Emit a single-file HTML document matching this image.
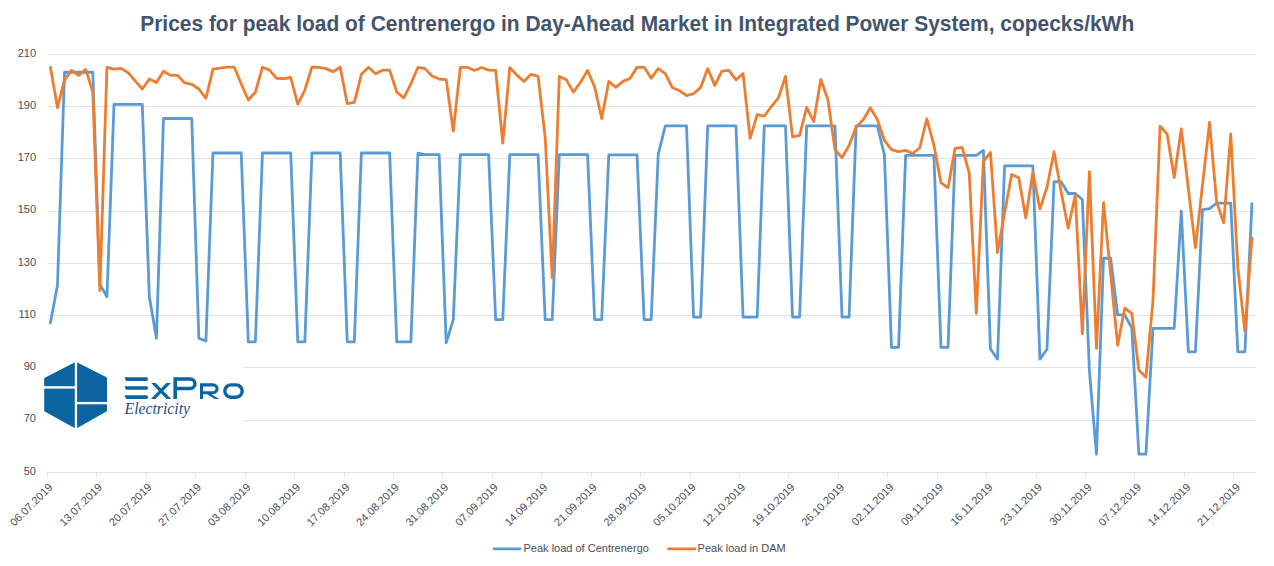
<!DOCTYPE html>
<html><head><meta charset="utf-8"><style>
html,body{margin:0;padding:0;background:#fff;}
body{width:1274px;height:566px;overflow:hidden;font-family:"Liberation Sans",sans-serif;}
svg{display:block;}
</style></head><body>
<svg width="1274" height="566" viewBox="0 0 1274 566">
<rect width="1274" height="566" fill="#fff"/>
<text x="637.2" y="30.9" text-anchor="middle" font-family="Liberation Sans, sans-serif" font-weight="bold" font-size="22" fill="#44546A" textLength="994" lengthAdjust="spacingAndGlyphs">Prices for peak load of Centrenergo in Day-Ahead Market in Integrated Power System, copecks/kWh</text>
<rect x="48" y="54" width="1208" height="1" fill="#E1E2E5"/>
<rect x="48" y="106" width="1208" height="1" fill="#E1E2E5"/>
<rect x="48" y="158" width="1208" height="1" fill="#E1E2E5"/>
<rect x="48" y="211" width="1208" height="1" fill="#E1E2E5"/>
<rect x="48" y="263" width="1208" height="1" fill="#E1E2E5"/>
<rect x="48" y="315" width="1208" height="1" fill="#E1E2E5"/>
<rect x="48" y="367" width="1208" height="1" fill="#E1E2E5"/>
<rect x="48" y="420" width="1208" height="1" fill="#E1E2E5"/>
<rect x="48" y="472" width="1208" height="1" fill="#E1E2E5"/>
<rect x="47" y="472" width="1" height="5" fill="#E1E2E5"/>
<rect x="96" y="472" width="1" height="5" fill="#E1E2E5"/>
<rect x="146" y="472" width="1" height="5" fill="#E1E2E5"/>
<rect x="195" y="472" width="1" height="5" fill="#E1E2E5"/>
<rect x="245" y="472" width="1" height="5" fill="#E1E2E5"/>
<rect x="294" y="472" width="1" height="5" fill="#E1E2E5"/>
<rect x="344" y="472" width="1" height="5" fill="#E1E2E5"/>
<rect x="393" y="472" width="1" height="5" fill="#E1E2E5"/>
<rect x="442" y="472" width="1" height="5" fill="#E1E2E5"/>
<rect x="492" y="472" width="1" height="5" fill="#E1E2E5"/>
<rect x="541" y="472" width="1" height="5" fill="#E1E2E5"/>
<rect x="591" y="472" width="1" height="5" fill="#E1E2E5"/>
<rect x="640" y="472" width="1" height="5" fill="#E1E2E5"/>
<rect x="690" y="472" width="1" height="5" fill="#E1E2E5"/>
<rect x="739" y="472" width="1" height="5" fill="#E1E2E5"/>
<rect x="788" y="472" width="1" height="5" fill="#E1E2E5"/>
<rect x="838" y="472" width="1" height="5" fill="#E1E2E5"/>
<rect x="887" y="472" width="1" height="5" fill="#E1E2E5"/>
<rect x="937" y="472" width="1" height="5" fill="#E1E2E5"/>
<rect x="986" y="472" width="1" height="5" fill="#E1E2E5"/>
<rect x="1036" y="472" width="1" height="5" fill="#E1E2E5"/>
<rect x="1085" y="472" width="1" height="5" fill="#E1E2E5"/>
<rect x="1134" y="472" width="1" height="5" fill="#E1E2E5"/>
<rect x="1184" y="472" width="1" height="5" fill="#E1E2E5"/>
<rect x="1233" y="472" width="1" height="5" fill="#E1E2E5"/>
<text x="36" y="56.6" text-anchor="end" font-family="Liberation Sans, sans-serif" font-size="11" fill="#4A4E56">210</text>
<text x="36" y="108.8" text-anchor="end" font-family="Liberation Sans, sans-serif" font-size="11" fill="#4A4E56">190</text>
<text x="36" y="161.1" text-anchor="end" font-family="Liberation Sans, sans-serif" font-size="11" fill="#4A4E56">170</text>
<text x="36" y="213.3" text-anchor="end" font-family="Liberation Sans, sans-serif" font-size="11" fill="#4A4E56">150</text>
<text x="36" y="265.6" text-anchor="end" font-family="Liberation Sans, sans-serif" font-size="11" fill="#4A4E56">130</text>
<text x="36" y="317.9" text-anchor="end" font-family="Liberation Sans, sans-serif" font-size="11" fill="#4A4E56">110</text>
<text x="36" y="370.1" text-anchor="end" font-family="Liberation Sans, sans-serif" font-size="11" fill="#4A4E56">90</text>
<text x="36" y="422.4" text-anchor="end" font-family="Liberation Sans, sans-serif" font-size="11" fill="#4A4E56">70</text>
<text x="36" y="474.6" text-anchor="end" font-family="Liberation Sans, sans-serif" font-size="11" fill="#4A4E56">50</text>
<text transform="translate(50.6,485.2) rotate(-45)" x="0" y="0" text-anchor="end" dy="0.35em" font-family="Liberation Sans, sans-serif" font-size="11" fill="#4A4E56">06.07.2019</text>
<text transform="translate(100.1,485.2) rotate(-45)" x="0" y="0" text-anchor="end" dy="0.35em" font-family="Liberation Sans, sans-serif" font-size="11" fill="#4A4E56">13.07.2019</text>
<text transform="translate(149.6,485.2) rotate(-45)" x="0" y="0" text-anchor="end" dy="0.35em" font-family="Liberation Sans, sans-serif" font-size="11" fill="#4A4E56">20.07.2019</text>
<text transform="translate(199.0,485.2) rotate(-45)" x="0" y="0" text-anchor="end" dy="0.35em" font-family="Liberation Sans, sans-serif" font-size="11" fill="#4A4E56">27.07.2019</text>
<text transform="translate(248.5,485.2) rotate(-45)" x="0" y="0" text-anchor="end" dy="0.35em" font-family="Liberation Sans, sans-serif" font-size="11" fill="#4A4E56">03.08.2019</text>
<text transform="translate(298.0,485.2) rotate(-45)" x="0" y="0" text-anchor="end" dy="0.35em" font-family="Liberation Sans, sans-serif" font-size="11" fill="#4A4E56">10.08.2019</text>
<text transform="translate(347.5,485.2) rotate(-45)" x="0" y="0" text-anchor="end" dy="0.35em" font-family="Liberation Sans, sans-serif" font-size="11" fill="#4A4E56">17.08.2019</text>
<text transform="translate(396.9,485.2) rotate(-45)" x="0" y="0" text-anchor="end" dy="0.35em" font-family="Liberation Sans, sans-serif" font-size="11" fill="#4A4E56">24.08.2019</text>
<text transform="translate(446.4,485.2) rotate(-45)" x="0" y="0" text-anchor="end" dy="0.35em" font-family="Liberation Sans, sans-serif" font-size="11" fill="#4A4E56">31.08.2019</text>
<text transform="translate(495.9,485.2) rotate(-45)" x="0" y="0" text-anchor="end" dy="0.35em" font-family="Liberation Sans, sans-serif" font-size="11" fill="#4A4E56">07.09.2019</text>
<text transform="translate(545.4,485.2) rotate(-45)" x="0" y="0" text-anchor="end" dy="0.35em" font-family="Liberation Sans, sans-serif" font-size="11" fill="#4A4E56">14.09.2019</text>
<text transform="translate(594.8,485.2) rotate(-45)" x="0" y="0" text-anchor="end" dy="0.35em" font-family="Liberation Sans, sans-serif" font-size="11" fill="#4A4E56">21.09.2019</text>
<text transform="translate(644.3,485.2) rotate(-45)" x="0" y="0" text-anchor="end" dy="0.35em" font-family="Liberation Sans, sans-serif" font-size="11" fill="#4A4E56">28.09.2019</text>
<text transform="translate(693.8,485.2) rotate(-45)" x="0" y="0" text-anchor="end" dy="0.35em" font-family="Liberation Sans, sans-serif" font-size="11" fill="#4A4E56">05.10.2019</text>
<text transform="translate(743.3,485.2) rotate(-45)" x="0" y="0" text-anchor="end" dy="0.35em" font-family="Liberation Sans, sans-serif" font-size="11" fill="#4A4E56">12.10.2019</text>
<text transform="translate(792.7,485.2) rotate(-45)" x="0" y="0" text-anchor="end" dy="0.35em" font-family="Liberation Sans, sans-serif" font-size="11" fill="#4A4E56">19.10.2019</text>
<text transform="translate(842.2,485.2) rotate(-45)" x="0" y="0" text-anchor="end" dy="0.35em" font-family="Liberation Sans, sans-serif" font-size="11" fill="#4A4E56">26.10.2019</text>
<text transform="translate(891.7,485.2) rotate(-45)" x="0" y="0" text-anchor="end" dy="0.35em" font-family="Liberation Sans, sans-serif" font-size="11" fill="#4A4E56">02.11.2019</text>
<text transform="translate(941.2,485.2) rotate(-45)" x="0" y="0" text-anchor="end" dy="0.35em" font-family="Liberation Sans, sans-serif" font-size="11" fill="#4A4E56">09.11.2019</text>
<text transform="translate(990.6,485.2) rotate(-45)" x="0" y="0" text-anchor="end" dy="0.35em" font-family="Liberation Sans, sans-serif" font-size="11" fill="#4A4E56">16.11.2019</text>
<text transform="translate(1040.1,485.2) rotate(-45)" x="0" y="0" text-anchor="end" dy="0.35em" font-family="Liberation Sans, sans-serif" font-size="11" fill="#4A4E56">23.11.2019</text>
<text transform="translate(1089.6,485.2) rotate(-45)" x="0" y="0" text-anchor="end" dy="0.35em" font-family="Liberation Sans, sans-serif" font-size="11" fill="#4A4E56">30.11.2019</text>
<text transform="translate(1139.1,485.2) rotate(-45)" x="0" y="0" text-anchor="end" dy="0.35em" font-family="Liberation Sans, sans-serif" font-size="11" fill="#4A4E56">07.12.2019</text>
<text transform="translate(1188.5,485.2) rotate(-45)" x="0" y="0" text-anchor="end" dy="0.35em" font-family="Liberation Sans, sans-serif" font-size="11" fill="#4A4E56">14.12.2019</text>
<text transform="translate(1238.0,485.2) rotate(-45)" x="0" y="0" text-anchor="end" dy="0.35em" font-family="Liberation Sans, sans-serif" font-size="11" fill="#4A4E56">21.12.2019</text>
<rect x="38" y="352" width="206" height="84" fill="#fff"/>
<polyline points="50.40,322.80 57.47,285.18 64.54,72.27 71.60,72.27 78.67,72.27 85.74,72.27 92.81,72.27 99.88,284.40 106.94,296.68 114.01,104.40 121.08,104.40 128.15,104.40 135.22,104.40 142.28,104.40 149.35,296.68 156.42,338.22 163.49,118.51 170.56,118.51 177.62,118.51 184.69,118.51 191.76,118.51 198.83,338.22 205.90,341.09 212.96,152.99 220.03,152.99 227.10,152.99 234.17,152.99 241.24,152.99 248.30,341.88 255.37,341.88 262.44,152.99 269.51,152.99 276.58,152.99 283.64,152.99 290.71,152.99 297.78,341.88 304.85,341.88 311.92,152.99 318.98,152.99 326.05,152.99 333.12,152.99 340.19,152.99 347.26,341.88 354.32,341.88 361.39,152.99 368.46,152.99 375.53,152.99 382.60,152.99 389.66,152.99 396.73,341.88 403.80,341.88 410.87,341.88 417.94,153.25 425.00,154.56 432.07,154.56 439.14,154.56 446.21,342.92 453.28,319.67 460.34,154.56 467.41,154.56 474.48,154.56 481.55,154.56 488.62,154.56 495.68,319.67 502.75,319.67 509.82,154.56 516.89,154.56 523.96,154.56 531.02,154.56 538.09,154.56 545.16,319.67 552.23,319.67 559.30,154.56 566.36,154.56 573.43,154.56 580.50,154.56 587.57,154.56 594.64,319.67 601.70,319.67 608.77,154.82 615.84,154.82 622.91,154.82 629.98,154.82 637.04,154.82 644.11,319.67 651.18,319.67 658.25,154.04 665.32,125.82 672.38,125.82 679.45,125.82 686.52,125.82 693.59,317.06 700.66,317.06 707.72,125.82 714.79,125.82 721.86,125.82 728.93,125.82 736.00,125.82 743.06,317.06 750.13,317.06 757.20,317.06 764.27,125.82 771.34,125.82 778.40,125.82 785.47,125.82 792.54,317.06 799.61,317.06 806.68,125.82 813.74,125.82 820.81,125.82 827.88,125.82 834.95,125.82 842.02,317.06 849.08,317.06 856.15,125.82 863.22,125.82 870.29,125.82 877.36,125.82 884.42,154.82 891.49,347.36 898.56,347.36 905.63,155.34 912.70,155.34 919.76,155.34 926.83,155.34 933.90,155.34 940.97,347.36 948.04,347.36 955.10,155.34 962.17,155.34 969.24,155.34 976.31,155.34 983.38,150.38 990.44,348.67 997.51,359.12 1004.58,165.79 1011.65,165.79 1018.72,165.79 1025.78,165.79 1032.85,165.79 1039.92,359.12 1046.99,349.19 1054.06,181.73 1061.12,181.73 1068.19,193.48 1075.26,193.48 1082.33,199.49 1089.40,370.61 1096.46,454.21 1103.53,258.27 1110.60,258.27 1117.67,314.97 1124.74,314.97 1131.80,327.77 1138.87,454.21 1145.94,454.21 1153.01,328.29 1160.08,328.29 1167.14,328.29 1174.21,328.29 1181.28,211.25 1188.35,351.80 1195.42,351.80 1202.48,209.68 1209.55,208.64 1216.62,203.15 1223.69,203.15 1230.76,203.15 1237.82,351.80 1244.89,351.80 1251.96,203.67" fill="none" stroke="#5B9BD5" stroke-width="2.8" stroke-linejoin="round" stroke-linecap="round"/>
<polyline points="50.40,67.30 57.47,107.53 64.54,79.84 71.60,70.44 78.67,75.40 85.74,69.39 92.81,92.12 99.88,290.67 106.94,67.30 114.01,69.13 121.08,68.35 128.15,72.79 135.22,80.89 142.28,88.98 149.35,79.06 156.42,82.45 163.49,71.22 170.56,75.40 177.62,75.40 184.69,82.98 191.76,84.28 198.83,88.98 205.90,98.39 212.96,69.13 220.03,68.08 227.10,67.04 234.17,67.04 241.24,83.76 248.30,99.96 255.37,92.12 262.44,67.30 269.51,70.17 276.58,78.27 283.64,78.53 290.71,77.49 297.78,104.14 304.85,90.03 311.92,67.04 318.98,67.30 326.05,68.61 333.12,71.74 340.19,67.30 347.26,103.62 354.32,102.31 361.39,74.35 368.46,67.30 375.53,73.83 382.60,70.17 389.66,70.17 396.73,92.12 403.80,97.87 410.87,83.76 417.94,67.30 425.00,68.61 432.07,75.92 439.14,79.06 446.21,79.58 453.28,131.05 460.34,67.30 467.41,67.30 474.48,70.44 481.55,67.56 488.62,70.17 495.68,70.44 502.75,143.06 509.82,67.56 516.89,75.14 523.96,81.41 531.02,74.35 538.09,76.45 545.16,137.05 552.23,277.87 559.30,76.45 566.36,79.84 573.43,92.12 580.50,82.19 587.57,70.44 594.64,86.90 601.70,118.51 608.77,81.41 615.84,87.42 622.91,81.41 629.98,78.53 637.04,67.30 644.11,67.30 651.18,78.27 658.25,68.61 665.32,73.57 672.38,87.68 679.45,90.55 686.52,95.52 693.59,93.69 700.66,87.42 707.72,68.61 714.79,85.33 721.86,71.22 728.93,70.44 736.00,79.84 743.06,73.57 750.13,138.36 757.20,114.59 764.27,116.15 771.34,106.49 778.40,97.87 785.47,76.45 792.54,136.79 799.61,135.49 806.68,107.27 813.74,121.64 820.81,79.58 827.88,99.43 834.95,149.60 842.02,157.69 849.08,145.42 856.15,126.87 863.22,119.81 870.29,107.80 877.36,119.55 884.42,140.45 891.49,149.60 898.56,151.68 905.63,150.38 912.70,153.51 919.76,147.77 926.83,118.77 933.90,145.15 940.97,182.77 948.04,187.74 955.10,148.29 962.17,147.50 969.24,173.11 976.31,313.40 983.38,161.61 990.44,152.47 997.51,252.53 1004.58,213.08 1011.65,174.41 1018.72,177.81 1025.78,217.78 1032.85,172.32 1039.92,208.90 1046.99,187.22 1054.06,151.68 1061.12,191.40 1068.19,228.23 1075.26,195.05 1082.33,333.78 1089.40,171.54 1096.46,348.41 1103.53,202.63 1110.60,273.69 1117.67,345.27 1124.74,308.17 1131.80,313.40 1138.87,370.09 1145.94,377.14 1153.01,300.07 1160.08,126.08 1167.14,134.18 1174.21,177.55 1181.28,128.96 1188.35,188.52 1195.42,247.82 1202.48,185.12 1209.55,122.42 1216.62,202.11 1223.69,222.75 1230.76,133.92 1237.82,267.68 1244.89,331.16 1251.96,237.90" fill="none" stroke="#ED7D31" stroke-width="2.8" stroke-linejoin="round" stroke-linecap="round"/>
<path d="M75.9,361.8 L106.5,377.2 Q107,377.6 107,378.3 L107,410.6 Q107,411.3 106.4,411.6 L75.9,428.8 L44.8,411.6 Q44.2,411.3 44.2,410.6 L44.2,378.6 Q44.2,378 44.8,377.7 Z" fill="#0B64A0"/>
<rect x="74.8" y="358" width="2.3" height="74" fill="#fff"/>
<rect x="42" y="386.2" width="33" height="2.4" fill="#fff"/>
<rect x="77" y="401.9" width="32" height="2.4" fill="#fff"/>
<path d="M124.7,377.3 L146.3,377.3 Q148,377.3 148,379.0 Q148,380.90000000000003 146.3,380.90000000000003 L126.9,380.90000000000003 Q125.4,380.90000000000003 124.7,377.3 Z" fill="#0B64A0"/>
<path d="M124.7,386.2 L146.3,386.2 Q148,386.2 148,387.9 Q148,389.8 146.3,389.8 L126.9,389.8 Q125.4,389.8 124.7,386.2 Z" fill="#0B64A0"/>
<path d="M124.7,395.3 L146.3,395.3 Q148,395.3 148,397.0 Q148,398.90000000000003 146.3,398.90000000000003 L126.9,398.90000000000003 Q125.4,398.90000000000003 124.7,395.3 Z" fill="#0B64A0"/>
<path d="M151.2,383 L155.7,383 L171.1,399 L166.6,399 Z M166.4,383 L170.9,383 L155.4,399 L150.9,399 Z" fill="#0B64A0"/>
<path fill-rule="evenodd" d="M173.4,377.3 L190.2,377.3 A6.45,6.45 0 0 1 190.2,390.2 L177.1,390.2 L177.1,399 L173.4,399 Z M177.1,380.8 L190.2,380.8 A3,3 0 0 1 190.2,386.8 L177.1,386.8 Z" fill="#0B64A0"/>
<path fill-rule="evenodd" d="M200,383.3 L213.2,383.3 A5.45,5.45 0 0 1 213.2,394.2 L211.3,394.2 L219.3,398.9 L214.8,398.9 L207.2,394.2 L203.1,394.2 L203.1,398.9 L200,398.9 Z M203.1,386.4 L213.2,386.4 A2.4,2.4 0 0 1 213.2,391.2 L203.1,391.2 Z" fill="#0B64A0"/>
<path fill-rule="evenodd" d="M230.9,383.3 L236.1,383.3 A7.8,7.8 0 0 1 236.1,398.9 L230.9,398.9 A7.8,7.8 0 0 1 230.9,383.3 Z M231,386.6 L236,386.6 A4.5,4.5 0 0 1 236,395.6 L231,395.6 A4.5,4.5 0 0 1 231,386.6 Z" fill="#0B64A0"/>
<text x="124.6" y="413.6" font-family="Liberation Serif, serif" font-style="italic" font-size="16" fill="#1B4F85" textLength="65.4" lengthAdjust="spacingAndGlyphs">Electricity</text>
<line x1="494" y1="548.8" x2="520" y2="548.8" stroke="#5B9BD5" stroke-width="2.8" stroke-linecap="round"/>
<text x="523.5" y="552.3" font-family="Liberation Sans, sans-serif" font-size="11" fill="#4A4E56">Peak load of Centrenergo</text>
<line x1="668.5" y1="548.8" x2="695" y2="548.8" stroke="#ED7D31" stroke-width="2.8" stroke-linecap="round"/>
<text x="697.6" y="552.3" font-family="Liberation Sans, sans-serif" font-size="11" fill="#4A4E56">Peak load in DAM</text>
</svg>
</body></html>
